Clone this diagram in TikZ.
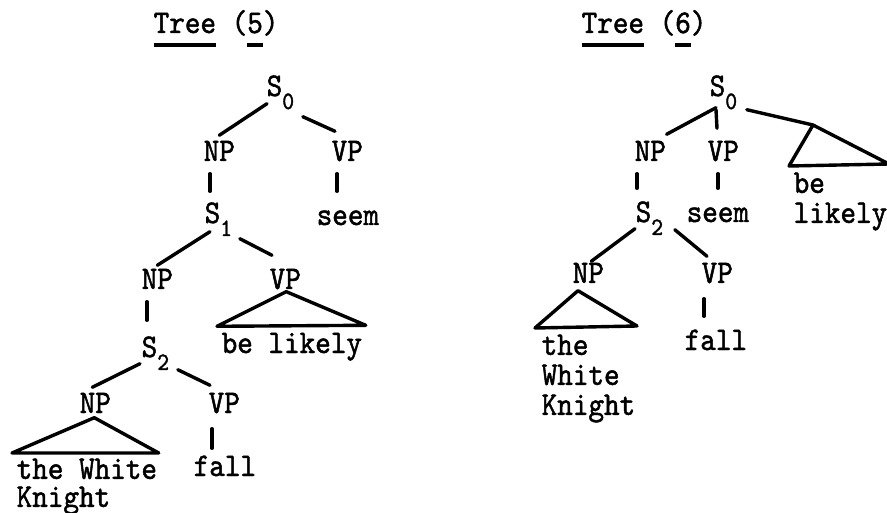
\documentclass[tikz,border=0pt]{standalone}
\usepackage{fontspec}
\usepackage{tikz}
\newfontfamily\typer{lmmono10-regular.otf}[FakeStretch=0.9,FakeBold=1.5]
% heavy typed underline and lowered index
\newcommand{\hul}[1]{\setbox0\hbox{#1}\rlap{\rule[-14pt]{\wd0}{4pt}}\box0\relax}
\newcommand{\lsub}[1]{\raisebox{-13pt}{\fontsize{25}{25}\selectfont#1}}

\begin{document}
\begin{tikzpicture}[x=1pt,y=-1pt,line width=3.4pt,line cap=round,line join=round,
    lab/.style={font=\typer\fontsize{33}{30}\selectfont,inner sep=0pt,anchor=base west,text height=20pt,text depth=0pt},
    leaf/.style={font=\typer\fontsize{33}{30}\selectfont,inner sep=0pt,anchor=north west,align=left}]
  \useasboundingbox (0,0) rectangle (887,513);

  % Tree (5)
  \node[lab]	(t5)	at (152,33)	{\hul{Tree} (\hul{5})};
  \node[lab]	(s05)	at (265,96)	{S\lsub{0}};
  \node[lab]	(np51)	at (202,161)	{NP};
  \node[lab]	(vp51)	at (330,161)	{VP};
  \node[lab]	(seem5)	at (315,225)	{seem};
  \node[lab]	(s15)	at (203,223)	{S\lsub{1}};
  \node[lab]	(np52)	at (140,289)	{NP};
  \node[lab]	(vp52)	at (268,289)	{VP};
  \node[lab]	(bl5)	at (220,353)	{be likely};
  \node[lab]	(s25)	at (140,357)	{S\lsub{2}};
  \node[lab]	(np53)	at (78,413)	{NP};
  \node[lab]	(vp53)	at (207,413)	{VP};
  \node[leaf]	(twk5)	at (15,457)	{the White\\[-2pt]Knight};
  \node[lab]	(fall5)	at (192,476)	{fall};

  \path	([shift={(2,6)}]s05.south west) edge ([shift={(0,-4)}]np51.north)
	([shift={(7,19)}]s05.south east) edge ([shift={(5,-8)}]vp51.north west)
	([shift={(8,11)}]np51.south west) edge ([shift={(7,-10)}]s15.north west)
	([shift={(7,11)}]vp51.south west) edge ([shift={(22,-12)}]seem5.north west)
	([shift={(7,7)}]s15.south west) edge ([shift={(0,-2)}]np52.north)
	([shift={(6,14)}]s15.south east) edge ([shift={(4,-12)}]vp52.north west)
	([shift={(7,11)}]np52.south west) edge ([shift={(7,-15)}]s25.north west)
	([shift={(0,5)}]s25.south west) edge ([shift={(-3,-4)}]np53.north)
	([shift={(7,11)}]s25.south east) edge ([shift={(3,-6)}]vp53.north west)
	([shift={(5,14)}]vp53.south west) edge ([shift={(20,-6)}]fall5.north west);
  \draw	([shift={(1,1)}]vp52.south) -- ([shift={(-3,-5)}]bl5.north west)
	-- ([shift={(2,-6)}]bl5.north east) -- cycle;
  \draw	([shift={(-1,3)}]np53.south) -- ([shift={(-3,-4)}]twk5.north west)
	-- ([shift={(0,-4)}]twk5.north west -| twk5.north east) -- cycle;

  % Tree (6)
  \node[lab]	(t6)	at (580,33)	{\hul{Tree} (\hul{6})};
  \node[lab]	(s06)	at (708,96)	{S\lsub{0}};
  \node[lab]	(np61)	at (633,161)	{NP};
  \node[lab]	(vp61)	at (706,161)	{VP};
  \node[leaf]	(bl6)	at (792,171)	{be\\likely};
  \node[lab]	(s26)	at (634,222)	{S\lsub{2}};
  \node[lab]	(seem6)	at (685,222)	{seem};
  \node[lab]	(np62)	at (571,283)	{NP};
  \node[lab]	(vp62)	at (700,283)	{VP};
  \node[leaf]	(twk6)	at (540,333)	{the\\White\\Knight};
  \node[lab]	(fall6)	at (683,350)	{fall};

  \path	([shift={(8,10)}]s06.south west) edge ([shift={(-1,-5)}]np61.north east)
	([shift={(8,12)}]s06.south west) edge ([shift={(11,-11)}]vp61.north west)
	([shift={(4,11)}]np61.south west) edge ([shift={(3,-12)}]s26.north west)
	([shift={(12,11)}]vp61.south west) edge ([shift={(33,-12)}]seem6.north west)
	([shift={(1,5)}]s26.south west) edge ([shift={(3,0)}]np62.north)
	([shift={(10,6)}]s26.south east) edge ([shift={(7,-5)}]vp62.north west)
	([shift={(4,14)}]vp62.south west) edge ([shift={(21,-12)}]fall6.north west);
  \draw	([shift={(8,12)}]s06.south east) -- ([shift={(21,-46)}]bl6.north west);
  \draw	([shift={(21,-46)}]bl6.north west) -- ([shift={(-3,-5)}]bl6.north west)
	-- ([shift={(0,-7)}]bl6.north east) -- cycle;
  \draw	([shift={(7,6)}]np62.south west) -- ([shift={(-5,-5)}]twk6.north west)
	-- ([shift={(0,-7)}]twk6.north east) -- cycle;
\end{tikzpicture}
\end{document}
